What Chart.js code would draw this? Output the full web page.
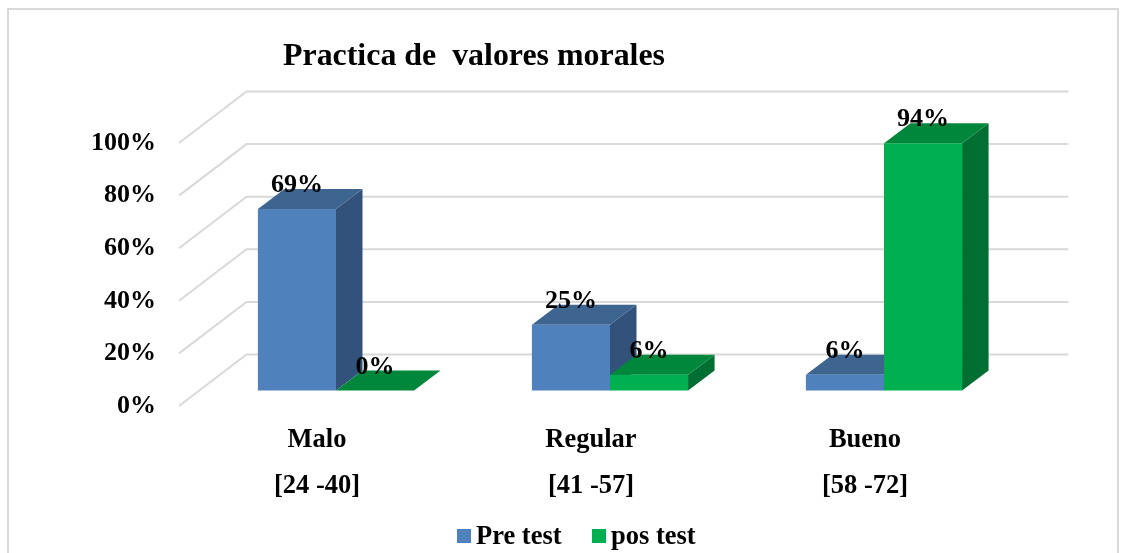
<!DOCTYPE html>
<html>
<head>
<meta charset="utf-8">
<style>html,body{margin:0;padding:0;background:#fff}#w{width:1128px;height:553px;position:relative;overflow:hidden}</style>
<script src="https://cdn.jsdelivr.net/npm/chart.js@4/dist/chart.umd.js"></script>
</head>
<body>
<div id="w"><canvas id="c" width="1128" height="553"></canvas></div>
<script>
const titleText = 'Practica de  valores morales';
const categories = [['Malo','[24 -40]'],['Regular','[41 -57]'],['Bueno','[58 -72]']];
const preTest = [69,25,6];
const posTest = [0,6,94];
const seriesNames = ['Pre test','pos test'];
const FONT = '"Liberation Serif"';
const palette = [
  {front:'#4f81bd',top:'#3e6490',side:'#32527b'},
  {front:'#00b050',top:'#00873c',side:'#006f31'}
];
const wall = {dx:66.5,dy:-51.5};
const barShift = {dx:19,dy:-15.5};
const depth = {dx:26.5,dy:-20};

const plugin3d = {
  id:'plugin3d',
  afterLayout(chart){
    const t = chart.titleBlock;
    if(t){ t.left = 283; t.right = 665; }
  },
  beforeDraw(chart){
    const g = chart.ctx;
    g.save();
    g.strokeStyle = '#d9d9d9'; g.lineWidth = 2;
    g.strokeRect(8,9,1110,600);
    g.restore();
  },
  beforeDatasetsDraw(chart){
    const g = chart.ctx, y = chart.scales.y, a = chart.chartArea;
    g.save();
    g.strokeStyle = '#d9d9d9'; g.lineWidth = 2;
    y.ticks.forEach(t=>{
      const py = y.getPixelForValue(t.value);
      g.beginPath();
      g.moveTo(a.left-1,py);
      g.lineTo(a.left+wall.dx,py+wall.dy);
      g.lineTo(a.right+wall.dx,py+wall.dy);
      g.stroke();
    });
    g.restore();
    // side and top faces, first series first, behind all front faces
    g.save();
    g.translate(barShift.dx,barShift.dy);
    chart.data.datasets.forEach((ds,i)=>{
      const pal = palette[i];
      chart.getDatasetMeta(i).data.forEach(b=>{
        const l=b.x-b.width/2, r=b.x+b.width/2, t=b.y, bot=b.base;
        g.fillStyle = pal.side;
        g.beginPath();
        g.moveTo(r,t); g.lineTo(r+depth.dx,t+depth.dy); g.lineTo(r+depth.dx,bot+depth.dy); g.lineTo(r,bot);
        g.closePath(); g.fill();
        g.fillStyle = pal.top;
        g.beginPath();
        g.moveTo(l,t); g.lineTo(l+depth.dx,t+depth.dy); g.lineTo(r+depth.dx,t+depth.dy); g.lineTo(r,t);
        g.closePath(); g.fill();
      });
    });
    g.restore();
  },
  beforeDatasetDraw(chart){
    chart.ctx.save();
    chart.ctx.translate(barShift.dx,barShift.dy);
  },
  afterDatasetDraw(chart){ chart.ctx.restore(); },
  afterDatasetsDraw(chart){
    const g = chart.ctx;
    g.save();
    g.fillStyle = '#000';
    g.font = 'bold 26px '+FONT;
    g.textAlign = 'center'; g.textBaseline = 'middle';
    chart.data.datasets.forEach((ds,i)=>{
      chart.getDatasetMeta(i).data.forEach((b,j)=>{
        g.fillText(ds.data[j]+'%', b.x+barShift.dx, b.y+barShift.dy-23.5);
      });
    });
    // legend
    let x = 457; const ly = 537;
    const gaps = [135,0];
    g.font = 'bold 26.5px '+FONT;
    chart.data.datasets.forEach((ds,i)=>{
      g.fillStyle = palette[i].front;
      g.fillRect(x,ly-8,14,14);
      g.fillStyle = '#000';
      g.textAlign = 'left';
      g.fillText(ds.label,x+19,ly);
      x += gaps[i];
    });
    g.restore();
  }
};

new Chart(document.getElementById('c'),{
  type:'bar',
  data:{
    labels:categories,
    datasets:[
      {label:seriesNames[0],data:preTest,backgroundColor:palette[0].front,clip:false},
      {label:seriesNames[1],data:posTest,backgroundColor:palette[1].front,clip:false}
    ]
  },
  plugins:[plugin3d],
  options:{
    responsive:false,
    animation:false,
    layout:{padding:{left:0,right:126,top:0,bottom:0}},
    plugins:{
      legend:{display:false},
      tooltip:{enabled:false},
      title:{display:true,text:titleText,color:'#000',font:{family:FONT,size:32,weight:'bold',lineHeight:1.2},padding:{top:38,bottom:66.6}}
    },
    datasets:{bar:{categoryPercentage:0.57,barPercentage:1}},
    scales:{
      x:{
        grid:{display:false,drawTicks:false},border:{display:false},
        afterFit(s){s.height=147;},
        ticks:{color:'#000',padding:11,maxRotation:0,autoSkip:false,font:{family:FONT,size:26.5,weight:'bold',lineHeight:'46px'}}
      },
      y:{
        min:0,max:100,
        grid:{display:false,drawTicks:false},border:{display:false},
        afterFit(s){s.width=180;},
        ticks:{stepSize:20,padding:24,color:'#000',callback:v=>v+'%',font:{family:FONT,size:26,weight:'bold'}}
      }
    }
  }
});
</script>
</body>
</html>
